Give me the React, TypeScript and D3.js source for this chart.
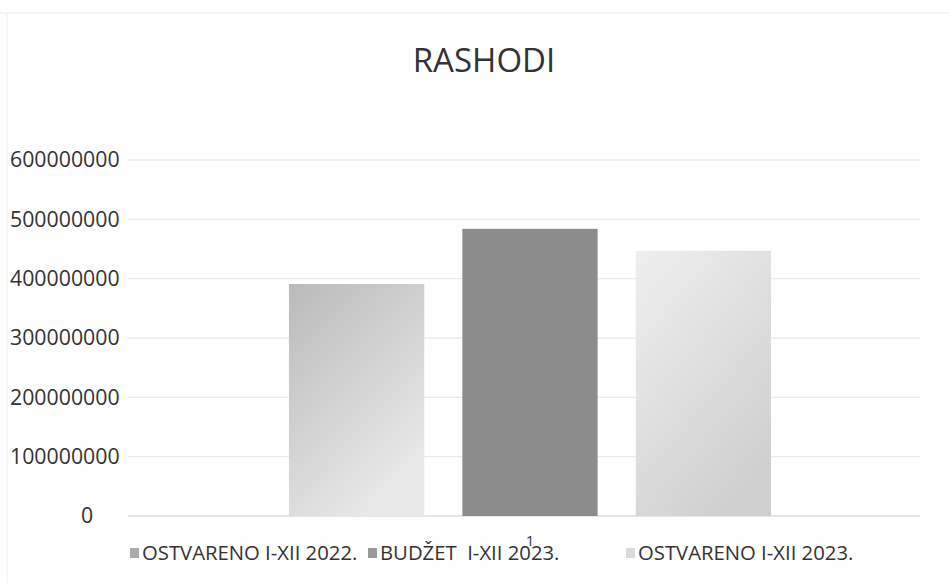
import { useEffect } from "react";
import * as d3 from "d3";

const categories = ["1"];
const seriesNames = ["OSTVARENO I-XII 2022.", "BUDŽET  I-XII 2023.", "OSTVARENO I-XII 2023."];
const seriesValues = [391000000, 484000000, 447000000];
const yTicks = [0, 100000000, 200000000, 300000000, 400000000, 500000000, 600000000];
const title = "RASHODI";

const width = 950;
const height = 583;
const plot = { left: 140, right: 920, top: 160, bottom: 516 };

const fills = ["url(#g0)", "#8c8c8c", "url(#g2)"];
const swatches = ["#ababab", "#999999", "#dcdcdc"];
const legendX = [130, 368, 626];

export default function App() {
  useEffect(() => {
    document.body.style.margin = "0";
  }, []);

  const y = d3.scaleLinear().domain([0, 600000000]).range([plot.bottom, plot.top]);
  const x0 = d3
    .scaleBand<string>()
    .domain(categories)
    .range([plot.left, plot.right])
    .paddingInner(0)
    .paddingOuter(0.309);
  const x1 = d3
    .scaleBand<string>()
    .domain(seriesNames)
    .range([0, x0.bandwidth()])
    .paddingInner(0.22)
    .paddingOuter(0);

  const font = "'Open Sans', 'DejaVu Sans', sans-serif";

  return (
    <svg width={width} height={height} style={{ display: "block", background: "#fff" }}>
      <defs>
        <linearGradient id="g0" x1="0" y1="0" x2="0.6" y2="1">
          <stop offset="0" stopColor="#bababa" />
          <stop offset="1" stopColor="#e9e9e9" />
        </linearGradient>
        <linearGradient id="g2" x1="0" y1="0" x2="0.6" y2="1">
          <stop offset="0" stopColor="#efefef" />
          <stop offset="1" stopColor="#d0d0d0" />
        </linearGradient>
      </defs>

      {/* scan edges */}
      <line x1={0} x2={width} y1={13} y2={13} stroke="#eeeeee" strokeWidth={1} />
      <line x1={7} x2={7} y1={14} y2={height} stroke="#f0f0f0" strokeWidth={1} />

      <text
        x={484}
        y={72}
        textAnchor="middle"
        fontFamily={font}
        fontSize={33}
        fill="#333"
      >
        {title}
      </text>

      {yTicks.map((t) => (
        <g key={t}>
          <line
            x1={plot.left - 12}
            x2={plot.right}
            y1={y(t)}
            y2={y(t)}
            stroke={t === 0 ? "#dedede" : "#ebebeb"}
            strokeWidth={1.3}
          />
          <text
            x={t === 0 ? 81 : 10}
            y={y(t)}
            dy="0.35em"
            fontFamily={font}
            fontSize={21.3}
            fill="#333"
          >
            {t}
          </text>
        </g>
      ))}

      {categories.map((c) => (
        <g key={c} transform={`translate(${x0(c)},0)`}>
          {seriesNames.map((s, i) => (
            <rect
              key={s}
              x={x1(s)}
              y={y(seriesValues[i])}
              width={x1.bandwidth()}
              height={y(0) - y(seriesValues[i])}
              fill={fills[i]}
            />
          ))}
          <text
            x={x0.bandwidth() / 2}
            y={546}
            textAnchor="middle"
            fontFamily={font}
            fontSize={15}
            fill="#333"
          >
            {c}
          </text>
        </g>
      ))}

      {seriesNames.map((s, i) => (
        <g key={s} transform={`translate(${legendX[i]},553)`}>
          <rect x={0} y={-5} width={9} height={10} fill={swatches[i]} />
          <text x={12} y={0} dy="0.35em" fontFamily={font} fontSize={20.3} fill="#333" xmlSpace="preserve">
            {s}
          </text>
        </g>
      ))}
    </svg>
  );
}
